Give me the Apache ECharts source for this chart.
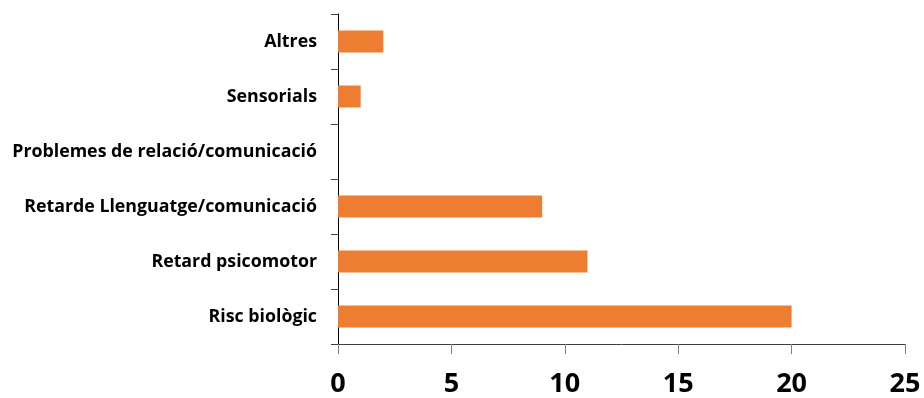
<!DOCTYPE html>
<html>
<head>
<meta charset="utf-8">
<script src="https://cdn.jsdelivr.net/npm/echarts@6/dist/echarts.min.js"></script>
<style>
  html, body { margin: 0; padding: 0; background: #fff; }
  #chart { width: 924px; height: 398px; }
</style>
</head>
<body>
<div id="chart"></div>
<script>
// Categories listed bottom-to-top (category axis on y starts at the bottom)
const categories = [
  'Risc biològic',
  'Retard psicomotor',
  'Retarde Llenguatge/comunicació',
  'Problemes de relació/comunicació',
  'Sensorials',
  'Altres'
];
const values = [20, 11, 9, 0, 1, 2];
const xTicks = { min: 0, max: 25, interval: 5 };

const chart = echarts.init(document.getElementById('chart'));
chart.setOption({
  animation: false,
  grid: { left: 338, right: 19, top: 14, bottom: 51 },
  xAxis: {
    type: 'value',
    min: xTicks.min,
    max: xTicks.max,
    interval: xTicks.interval,
    splitLine: { show: false },
    axisLine: { show: true, lineStyle: { color: '#404040', width: 1 } },
    axisTick: { show: true, length: 10, lineStyle: { color: '#808080' } },
    axisLabel: {
      margin: 27,
      color: '#000',
      fontFamily: 'Open Sans',
      fontWeight: 'bold',
      fontSize: 27
    }
  },
  yAxis: {
    type: 'category',
    data: categories,
    axisLine: { show: true, lineStyle: { color: '#000', width: 1 } },
    axisTick: { show: true, length: 7, lineStyle: { color: '#404040' } },
    axisLabel: {
      margin: 21,
      color: '#000',
      fontFamily: 'Open Sans',
      fontWeight: 'bold',
      fontSize: 17.8
    }
  },
  series: [{
    type: 'bar',
    data: values,
    barWidth: '40%',
    itemStyle: { color: '#ED7D31' }
  }]
});
</script>
</body>
</html>
